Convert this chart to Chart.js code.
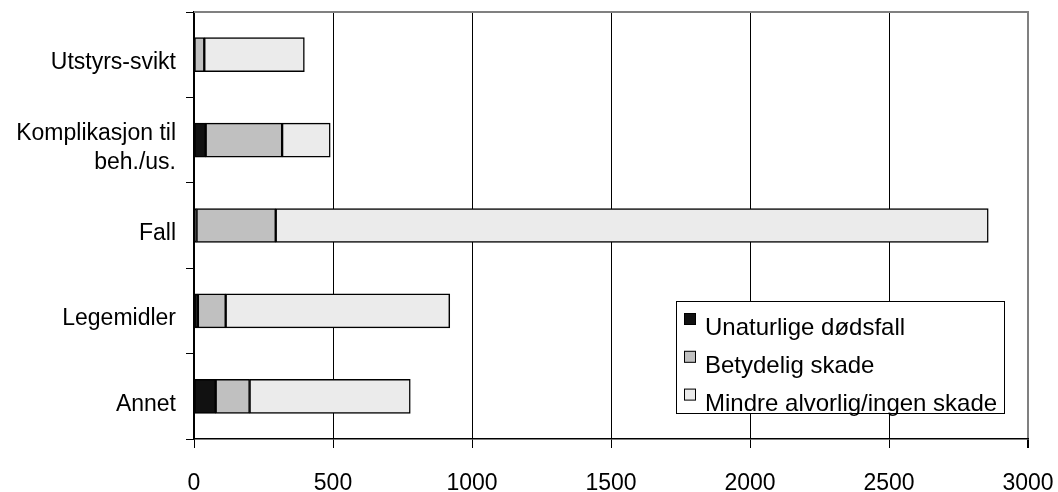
<!DOCTYPE html>
<html lang="no">
<head>
  <meta charset="UTF-8">
  <title>Hendelser etter type</title>
  <script src="https://cdn.jsdelivr.net/npm/chart.js"></script>
  <style>
    body {
      margin: 0;
      background-color: #ffffff;
    }
    #wrap {
      width: 1058px;
      height: 492px;
    }
  </style>
</head>
<body>
<div id="wrap">
  <canvas id="chartCanvas"></canvas>
</div>

<script>
  // Kategorier (ovenfra og ned)
  const kategorier = ['Utstyrs-svikt', ['Komplikasjon til', 'beh./us.'], 'Fall', 'Legemidler', 'Annet'];

  // Verdier per alvorlighetsgrad
  const unaturligeDodsfall = [0, 42, 9, 14, 78];
  const betydeligSkade = [37, 275, 285, 100, 122];
  const mindreAlvorlig = [360, 173, 2563, 806, 578];

  const serieNavn = ['Unaturlige dødsfall', 'Betydelig skade', 'Mindre alvorlig/ingen skade'];
  const serieFarger = ['#111111', '#c0c0c0', '#ebebeb'];

  // X-akse
  const xMin = 0;
  const xMax = 3000;
  const xSteg = 500;

  const font = '"Liberation Sans", Arial, sans-serif';

  // Legende inne i plottet, nede til høyre
  const legendePlugin = {
    id: 'legendeBoks',
    afterDraw(chart) {
      const ctx = chart.ctx;
      const area = chart.chartArea;
      const bredde = 328;
      const hoyde = 112;
      const x = area.right - 24 - bredde;
      const y = area.bottom - 26 - hoyde;
      ctx.save();
      ctx.fillStyle = '#ffffff';
      ctx.fillRect(x, y, bredde, hoyde);
      ctx.strokeStyle = '#000000';
      ctx.lineWidth = 1;
      ctx.strokeRect(x + 0.5, y + 0.5, bredde, hoyde);
      ctx.font = '24px ' + font;
      ctx.textBaseline = 'alphabetic';
      chart.data.datasets.forEach((ds, i) => {
        const grunnlinje = y + 34 + i * 37.8;
        ctx.fillStyle = ds.backgroundColor;
        ctx.fillRect(x + 8, grunnlinje - 22, 12, 12);
        ctx.strokeStyle = '#000000';
        ctx.lineWidth = 1;
        ctx.strokeRect(x + 8.5, grunnlinje - 21.5, 11, 11);
        ctx.fillStyle = '#000000';
        ctx.fillText(ds.label, x + 29, grunnlinje);
      });
      ctx.restore();
    }
  };

  // Grå ramme øverst i plottet
  const rammePlugin = {
    id: 'ramme',
    beforeDatasetsDraw(chart) {
      const ctx = chart.ctx;
      const area = chart.chartArea;
      ctx.save();
      ctx.strokeStyle = '#808080';
      ctx.lineWidth = 2;
      ctx.beginPath();
      ctx.moveTo(area.left, area.top);
      ctx.lineTo(area.right + 1, area.top);
      ctx.stroke();
      ctx.restore();
    }
  };

  const verdier = [unaturligeDodsfall, betydeligSkade, mindreAlvorlig];

  new Chart(document.getElementById('chartCanvas'), {
    type: 'bar',
    data: {
      labels: kategorier,
      datasets: verdier.map((data, i) => ({
        label: serieNavn[i],
        data: data,
        backgroundColor: serieFarger[i],
        borderColor: '#000000',
        borderWidth: 1.5,
        borderSkipped: false,
        barThickness: 34
      }))
    },
    options: {
      indexAxis: 'y',
      responsive: true,
      maintainAspectRatio: false,
      animation: false,
      layout: {
        padding: { top: 12, right: 0, left: 0, bottom: 0 }
      },
      plugins: {
        legend: { display: false },
        tooltip: { enabled: false }
      },
      scales: {
        x: {
          stacked: true,
          min: xMin,
          max: xMax,
          ticks: {
            stepSize: xSteg,
            color: '#000000',
            padding: 22,
            font: { family: font, size: 23 },
            callback: (v) => String(v)
          },
          grid: {
            color: (c) => c.tick && c.tick.value === xMax ? '#808080' : '#000000',
            lineWidth: (c) => c.tick && c.tick.value === xMax ? 2 : 1,
            tickLength: 9,
            tickColor: '#000000'
          },
          border: { color: '#000000', width: 1.5 },
          afterFit(scale) {
            scale.height = 53;
            scale.paddingLeft = 0;
            scale.paddingRight = 30;
          }
        },
        y: {
          stacked: true,
          offset: true,
          ticks: {
            color: '#000000',
            padding: 10,
            labelOffset: 8,
            font: { family: font, size: 23, lineHeight: 1.26 }
          },
          grid: {
            offset: true,
            drawOnChartArea: false,
            tickLength: 8,
            color: '#000000'
          },
          border: { color: '#000000', width: 1.5 },
          afterFit(scale) {
            scale.width = 194;
            scale.paddingTop = 0;
            scale.paddingBottom = 0;
          }
        }
      }
    },
    plugins: [rammePlugin, legendePlugin]
  });
</script>
</body>
</html>
